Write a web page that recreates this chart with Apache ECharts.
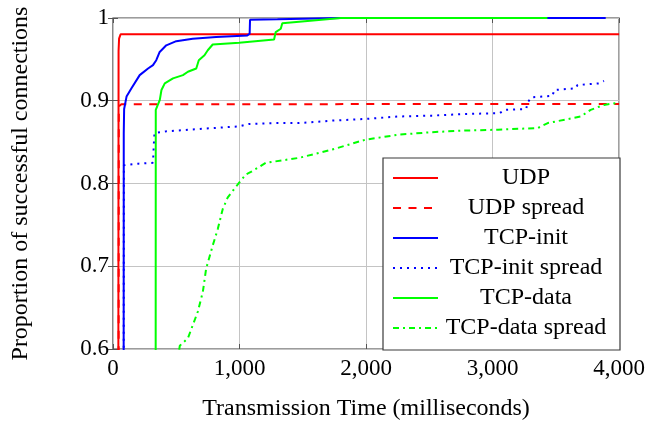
<!DOCTYPE html>
<html>
<head>
<meta charset="utf-8">
<title>Transmission time CDF</title>
<script src="https://cdn.jsdelivr.net/npm/echarts@6/dist/echarts.min.js"></script>
<style>
  html, body { margin: 0; padding: 0; background: #ffffff; }
  #chart { width: 648px; height: 426px; }
</style>
</head>
<body>
<div id="chart"></div>
<script>
// Cumulative share of successful connections vs. transmission time (ms)
const xTicks = [0, 1000, 2000, 3000, 4000];
const yTicks = [0.6, 0.7, 0.8, 0.9, 1];

const udp = [[42, 0.5], [44, 0.96], [48, 0.975], [60, 0.9804], [4000, 0.9804]];

const udpSpread = [[44, 0.5], [46, 0.893], [66, 0.8957], [4000, 0.8962]];

const tcpInit = [
  [84, 0.5], [85, 0.86], [88, 0.89], [107, 0.905], [146, 0.915], [211, 0.931],
  [277, 0.939], [316, 0.943], [342, 0.949], [369, 0.959], [421, 0.967],
  [500, 0.972], [630, 0.975], [815, 0.977], [1062, 0.979], [1080, 0.981],
  [1083, 0.998], [1300, 0.9985], [1600, 0.9995], [1800, 1], [3894, 1]
];

const tcpInitSpread = [
  [84, 0.5], [86, 0.822], [100, 0.823], [200, 0.824], [316, 0.825], [322, 0.845],
  [328, 0.861], [421, 0.863], [686, 0.866], [997, 0.869], [1076, 0.872],
  [1300, 0.873], [1471, 0.873], [1733, 0.876], [1995, 0.878], [2257, 0.881],
  [2519, 0.882], [2781, 0.884], [3056, 0.885], [3095, 0.889], [3265, 0.890],
  [3278, 0.898], [3304, 0.904], [3474, 0.906], [3487, 0.913], [3657, 0.915],
  [3671, 0.919], [3841, 0.921], [3880, 0.924]
];

const tcpData = [
  [337, 0.5], [338, 0.889], [370, 0.901], [383, 0.913], [409, 0.921], [474, 0.927],
  [553, 0.931], [592, 0.935], [658, 0.939], [678, 0.949], [723, 0.955],
  [749, 0.961], [788, 0.968], [997, 0.970], [1273, 0.974], [1286, 0.983],
  [1326, 0.987], [1338, 0.9936], [1626, 0.9976], [1800, 1], [3433, 1]
];

const tcpDataSpread = [
  [505, 0.58], [528, 0.604], [592, 0.613], [670, 0.645], [710, 0.669], [736, 0.697],
  [788, 0.725], [828, 0.745], [867, 0.769], [906, 0.783], [997, 0.801],
  [1050, 0.811], [1090, 0.814], [1208, 0.825], [1471, 0.831], [1733, 0.841],
  [1995, 0.853], [2257, 0.859], [2519, 0.862], [2781, 0.864], [3043, 0.865],
  [3357, 0.867], [3436, 0.873], [3697, 0.881], [3775, 0.889], [3880, 0.895],
  [3971, 0.897]
];

const FONT = '"Liberation Serif", "Times New Roman", serif';
const RED = '#ff0000', BLUE = '#0000ff', GREEN = '#00ff00';

function curve(name, data, color, dash) {
  return {
    name: name,
    type: 'line',
    data: data,
    showSymbol: false,
    symbol: 'none',
    animation: false,
    clip: true,
    lineStyle: { color: color, width: 2, type: dash || 'solid', cap: 'butt' },
    itemStyle: { color: color },
    emphasis: { disabled: true }
  };
}

const tickStyle = { inside: true, length: 5, lineStyle: { color: '#555', width: 1 } };

const chart = echarts.init(document.getElementById('chart'), null, { renderer: 'canvas' });
chart.setOption({
  backgroundColor: '#ffffff',
  animation: false,
  grid: {
    left: 113, right: 28, top: 18, bottom: 75,
    show: true, borderColor: '#3a3a3a', borderWidth: 1.2, backgroundColor: 'transparent'
  },
  xAxis: [{
    type: 'value', min: xTicks[0], max: xTicks[xTicks.length - 1], interval: 1000,
    name: 'Transmission Time (milliseconds)', nameLocation: 'middle', nameGap: 48,
    nameTextStyle: { fontFamily: FONT, fontSize: 24, color: '#000' },
    axisLine: { show: false },
    axisTick: tickStyle,
    axisLabel: {
      fontFamily: FONT, fontSize: 23, color: '#000', margin: 8,
      formatter: v => v.toLocaleString('en-US')
    },
    splitLine: { show: true, lineStyle: { color: '#c4c4c4', width: 1 } }
  }, {
    type: 'value', position: 'top', min: xTicks[0], max: xTicks[xTicks.length - 1], interval: 1000,
    axisLine: { show: false }, axisTick: tickStyle, axisLabel: { show: false }, splitLine: { show: false }
  }],
  yAxis: [{
    type: 'value', min: yTicks[0], max: yTicks[yTicks.length - 1], interval: 0.1,
    name: 'Proportion of successful connections', nameLocation: 'middle', nameGap: 80,
    nameTextStyle: { fontFamily: FONT, fontSize: 24, color: '#000' },
    axisLine: { show: false },
    axisTick: tickStyle,
    axisLabel: {
      fontFamily: FONT, fontSize: 23, color: '#000', margin: 4,
      formatter: v => String(Math.round(v * 10) / 10)
    },
    splitLine: { show: true, lineStyle: { color: '#c4c4c4', width: 1 } }
  }, {
    type: 'value', position: 'right', min: yTicks[0], max: yTicks[yTicks.length - 1], interval: 0.1,
    axisLine: { show: false }, axisTick: tickStyle, axisLabel: { show: false }, splitLine: { show: false }
  }],
  legend: {
    left: 383, top: 158,
    orient: 'vertical',
    backgroundColor: '#ffffff',
    borderColor: '#3a3a3a', borderWidth: 1.2, borderRadius: 0,
    padding: [8, 11, 10, 9],
    itemWidth: 45, itemHeight: 24, itemGap: 6,
    selectedMode: false,
    itemStyle: { opacity: 0 },
    data: ['UDP', 'UDP spread', 'TCP-init', 'TCP-init spread', 'TCP-data', 'TCP-data spread'],
    formatter: name => '{t|' + name + '}',
    textStyle: {
      rich: {
        t: { width: 166, align: 'center', fontFamily: FONT, fontSize: 24, lineHeight: 24, color: '#000' }
      }
    }
  },
  series: [
    curve('UDP', udp, RED),
    curve('UDP spread', udpSpread, RED, [8, 7.5]),
    curve('TCP-init', tcpInit, BLUE),
    curve('TCP-init spread', tcpInitSpread, BLUE, [2, 5]),
    curve('TCP-data', tcpData, GREEN),
    curve('TCP-data spread', tcpDataSpread, GREEN, [6, 4, 2, 4])
  ]
});
</script>
</body>
</html>
